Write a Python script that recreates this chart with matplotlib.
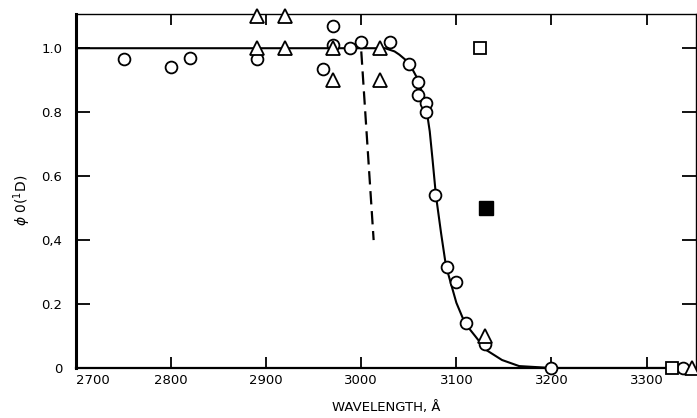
import numpy as np
import matplotlib
matplotlib.use('Agg')
import matplotlib.pyplot as plt

# Puntos (longitud de onda en Angstrom, rendimiento cuantico)
circ_x = [2750, 2800, 2820, 2890, 2960, 2970, 2970, 2988, 3000, 3030, 3050,
          3060, 3060, 3068, 3068, 3078, 3090, 3100, 3110, 3130, 3200, 3338]
circ_y = [0.965, 0.94, 0.97, 0.965, 0.935, 1.07, 1.01, 1.0, 1.02, 1.02, 0.95,
          0.895, 0.855, 0.83, 0.80, 0.54, 0.315, 0.27, 0.14, 0.075, 0.0, 0.0]

tri_x = [2890, 2920, 2890, 2920, 2970, 2970, 3020, 3020, 3130, 3348]
tri_y = [1.10, 1.10, 1.0, 1.0, 1.0, 0.90, 1.0, 0.90, 0.10, 0.0]

sq_x = [3125, 3327]
sq_y = [1.0, 0.0]

sqf_x = [3131]
sqf_y = [0.5]

# curva suave dibujada a mano
curve_x = [2700, 3025, 3035, 3040, 3050, 3060, 3068, 3072, 3075, 3078.5, 3084,
           3089, 3094, 3100, 3109, 3120, 3131, 3148, 3166, 3200, 3352]
curve_y = [1.0, 1.0, 0.99, 0.98, 0.955, 0.9, 0.82, 0.74, 0.65, 0.54, 0.42,
           0.32, 0.267, 0.204, 0.14, 0.099, 0.057, 0.025, 0.006, 0.0, 0.0]

dash_x = [3000, 3013]
dash_y = [0.99, 0.40]

xticks = [2700, 2800, 2900, 3000, 3100, 3200, 3300]
yticks = [0, 0.2, 0.4, 0.6, 0.8, 1.0]
ylabels = ['0', '0.2', '0,4', '0.6', '0.8', '1.0']

fig = plt.figure(figsize=(6.97, 4.18), dpi=100)
ax = fig.add_axes([76 / 697, 1 - 368 / 418, 620 / 697, (368 - 14) / 418])

ax.plot(curve_x, curve_y, color='black', linewidth=1.5, zorder=2)
ax.plot(dash_x, dash_y, color='black', linewidth=1.6, dashes=(6, 3), zorder=2)

mk = dict(linestyle='none', color='black', mfc='white', mew=1.3, clip_on=False, zorder=3)
ax.plot(circ_x, circ_y, marker='o', markersize=8.5, **mk)
ax.plot(tri_x, tri_y, marker='^', markersize=9.5, **mk)
ax.plot(sq_x, sq_y, marker='s', markersize=9, **mk)
ax.plot(sqf_x, sqf_y, marker='s', markersize=9.5, linestyle='none',
        color='black', zorder=3)

ax.set_xlim(2700, 3352)
ax.set_ylim(0, 1.107)

ax.set_xticks(xticks)
ax.set_xticklabels([str(t) for t in xticks], fontsize=9.5)
ax.get_xticklabels()[0].set_horizontalalignment('left')
ax.set_yticks(yticks)
ax.set_yticklabels(ylabels, fontsize=9.5)

ax.tick_params(axis='x', direction='in', length=8, width=1.3, top=True, pad=4)
ax.tick_params(axis='y', direction='in', length=10, width=1.3, right=True, pad=10)

ax.spines['left'].set_linewidth(2.2)
ax.spines['bottom'].set_linewidth(1.6)
ax.spines['top'].set_linewidth(1.0)
ax.spines['right'].set_linewidth(1.0)

fig.text(386 / 697, 1 - 408 / 418, 'WAVELENGTH, Å', ha='center', va='center', fontsize=9.5)
fig.text(22 / 697, 1 - 200 / 418, r'$\phi$ 0($^1$D)', rotation=90,
         ha='center', va='center', fontsize=10)

fig.savefig('out.png', dpi=100)
